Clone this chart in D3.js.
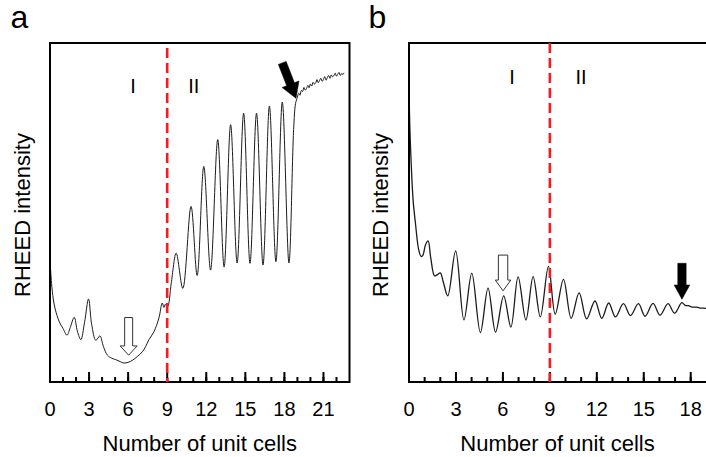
<!DOCTYPE html>
<html>
<head>
<meta charset="utf-8">
<script src="https://cdn.jsdelivr.net/npm/d3@7"></script>
<style>
  html, body { margin: 0; padding: 0; background: #fff; }
  svg { display: block; font-family: "Liberation Sans", Arial, Helvetica, sans-serif; }
</style>
</head>
<body>
<svg id="chart" width="706" height="457"></svg>
<script>
// ---- Data -------------------------------------------------------------
// Panel a: RHEED intensity (arb. units, 0-100) against deposited unit cells
const cellsA = [
  0.00, 0.12, 0.25, 0.40, 0.71, 1.00, 1.30, 1.55, 1.86, 2.10, 2.37, 2.65, 2.96, 3.20,
  3.52, 3.83, 4.10, 4.41, 4.75, 5.05, 5.40, 5.68, 6.00, 6.33, 6.70, 7.09, 7.35, 7.60,
  7.98, 8.36, 8.62, 8.75, 8.85, 9.03, 9.31, 9.69, 10.20, 10.83, 11.30, 11.81, 12.33,
  12.88, 13.37, 13.87, 14.37, 14.87, 15.36, 15.86, 16.36, 16.85, 17.35, 17.84, 18.35,
  18.71, 18.86, 19.00, 19.10, 19.20, 19.30, 19.40, 19.50, 19.60, 19.70, 19.80, 19.90,
  20.00, 20.10, 20.20, 20.30, 20.40, 20.50, 20.60, 20.70, 20.80, 20.90, 21.00, 21.10,
  21.20, 21.30, 21.40, 21.50, 21.60, 21.70, 21.80, 21.90, 22.00, 22.10, 22.20, 22.30,
  22.40, 22.50, 22.57
];
const intensityA = [
  36.0, 29.0, 24.5, 21.5, 17.8, 15.8, 13.8, 16.0, 19.1, 15.0, 12.5, 17.5, 24.5, 17.0,
  12.3, 13.6, 10.5, 7.9, 7.0, 6.6, 6.0, 5.6, 5.8, 6.4, 7.5, 8.9, 10.5, 12.5,
  14.8, 18.8, 23.3, 22.0, 22.9, 22.2, 29.1, 38.0, 27.6, 51.8, 31.4, 63.6, 33.0,
  71.5, 33.9, 75.9, 35.1, 79.3, 35.0, 79.3, 34.5, 81.4, 35.5, 82.6, 35.1,
  74.5, 82.2, 84.0, 85.2, 84.6, 86.0, 85.7, 86.9, 86.1, 86.6, 87.5, 86.8,
  87.9, 87.3, 88.4, 87.9, 88.2, 89.2, 88.3, 88.9, 89.6, 88.7, 89.3, 90.1,
  89.0, 89.8, 90.4, 89.6, 90.6, 90.0, 90.4, 91.1, 90.2, 90.8, 91.3, 90.4,
  91.0, 90.7, 91.2
];

// Panel b
const cellsB = [
  0.00, 0.04, 0.13, 0.26, 0.41, 0.62, 0.78, 0.90, 1.05, 1.22, 1.39, 1.63, 1.79, 2.00,
  2.19, 2.48, 2.98, 3.51, 4.01, 4.56, 5.05, 5.53, 6.05, 6.51, 6.97, 7.47, 7.93, 8.39,
  8.91, 9.34, 9.87, 10.36, 10.87, 11.35, 11.88, 12.32, 12.76, 13.19, 13.70, 14.15,
  14.66, 15.08, 15.59, 16.04, 16.55, 16.97, 17.43, 17.65, 17.85, 18.10, 18.39, 18.60,
  18.81, 19.10
];
const intensityB = [
  90.7, 77.5, 65.6, 53.8, 46.9, 39.0, 37.0, 37.5, 40.4, 41.6, 36.6, 31.3, 31.6, 32.2,
  29.5, 25.4, 38.7, 18.3, 32.1, 14.6, 27.7, 14.7, 25.4, 16.2, 31.0, 18.3, 31.1, 19.2,
  34.1, 20.0, 30.3, 18.8, 26.3, 18.6, 23.9, 18.8, 23.3, 19.2, 23.1, 19.6,
  23.1, 19.4, 23.2, 19.7, 23.1, 20.3, 23.4, 22.6, 22.5, 22.1, 22.1, 21.8,
  21.8, 21.6
];

// Axis ticks
const tickLabelsA = [0, 3, 6, 9, 12, 15, 18, 21];
const minorTicksA = d3.range(0, 23);
const tickLabelsB = [0, 3, 6, 9, 12, 15, 18];
const minorTicksB = d3.range(0, 19);

// Boundary between growth regimes and region names
const boundaryCell = 9;
const regionNames = ["I", "II"];
const regionCellsA = [6.37, 11.04];
const regionCellsB = [6.59, 10.99];

// Arrow tips (cells, intensity): [open arrow, solid arrow]
const arrowCellsA = [6.04, 18.89];
const arrowLevelsA = [7.9, 83.7];
const arrowCellsB = [6.01, 17.44];
const arrowLevelsB = [26.9, 24.4];

// ---- Layout -----------------------------------------------------------
const svg = d3.select("#chart");
const plotTop = 43, plotBottom = 382;
const font = '"Liberation Sans", Arial, Helvetica, sans-serif';

const panels = [
  {
    letter: "a", letterX: 10.5,
    cells: cellsA, intensity: intensityA,
    domain: [0, 23], range: [50, 349.5],
    majors: tickLabelsA, minors: minorTicksA,
    yLabelX: 30, lineWidth: 1.0,
    regions: regionCellsA, regionLevel: 85.3,
    dashOffset: 10,
    arrowCells: arrowCellsA, arrowLevels: arrowLevelsA,
    arrows: [
      { kind: "open", len: 37.7, shaftW: 8, headL: 9.3, headW: 17, angle: 0 },
      { kind: "solid", len: 37.9, shaftW: 8.3, headL: 15, headW: 18, angle: -21.2 }
    ]
  },
  {
    letter: "b", letterX: 368.5,
    cells: cellsB, intensity: intensityB,
    domain: [0, 19.2], range: [409, 709.5],
    majors: tickLabelsB, minors: minorTicksB,
    yLabelX: 388, lineWidth: 1.3,
    regions: regionCellsB, regionLevel: 87.9,
    dashOffset: 0,
    arrowCells: arrowCellsB, arrowLevels: arrowLevelsB,
    arrows: [
      { kind: "open", len: 35.7, shaftW: 9.4, headL: 10.7, headW: 15.5, angle: 0 },
      { kind: "solid", len: 36, shaftW: 8.4, headL: 14.3, headW: 15.7, angle: 0 }
    ]
  }
];

// Block arrow pointing along +y with its tip at the origin
function arrowPath(a) {
  const s = a.shaftW / 2, h = a.headW / 2;
  return `M${-s},${-a.len}L${s},${-a.len}L${s},${-a.headL}L${h},${-a.headL}` +
         `L0,0L${-h},${-a.headL}L${-s},${-a.headL}Z`;
}

panels.forEach(p => {
  const x = d3.scaleLinear().domain(p.domain).range(p.range);
  const y = d3.scaleLinear().domain([0, 100]).range([plotBottom, plotTop]);
  const g = svg.append("g");

  // Panel letter
  g.append("text")
    .attr("x", p.letterX).attr("y", 28.3)
    .attr("font-size", 32).attr("fill", "#000")
    .text(p.letter);

  // Intensity trace
  const pts = p.cells.map((c, i) => [c, p.intensity[i]]);
  g.append("path")
    .datum(pts)
    .attr("fill", "none")
    .attr("stroke", "#1c1c1c")
    .attr("stroke-width", p.lineWidth)
    .attr("stroke-linejoin", "round")
    .attr("d", d3.line().x(d => x(d[0])).y(d => y(d[1])).curve(d3.curveCatmullRom.alpha(0.5)));

  // Frame
  g.append("rect")
    .attr("x", x(p.domain[0])).attr("y", plotTop)
    .attr("width", x(p.domain[1]) - x(p.domain[0])).attr("height", plotBottom - plotTop)
    .attr("fill", "none").attr("stroke", "#000").attr("stroke-width", 2);

  // Inward ticks: minor every cell, major every three cells with labels
  const minorAxis = d3.axisBottom(x).tickValues(p.minors).tickSize(-5).tickSizeOuter(0)
    .tickFormat("").offset(0);
  const majorAxis = d3.axisBottom(x).tickValues(p.majors).tickSize(-10).tickSizeOuter(0)
    .tickPadding(20).tickFormat(d3.format("d")).offset(0);
  [minorAxis, majorAxis].forEach(ax => {
    const axG = g.append("g").attr("transform", `translate(0,${plotBottom})`).call(ax);
    axG.select(".domain").remove();
    axG.attr("font-size", null).attr("font-family", null);
    axG.selectAll(".tick line").attr("stroke", "#000").attr("stroke-width", 2);
    axG.selectAll(".tick text").attr("fill", "#000").attr("font-size", 20)
      .attr("font-family", font);
  });

  // Regime boundary
  g.append("line")
    .attr("x1", x(boundaryCell)).attr("x2", x(boundaryCell))
    .attr("y1", plotTop).attr("y2", plotBottom)
    .attr("stroke", "#f21c22").attr("stroke-width", 2.6)
    .attr("stroke-dasharray", "10,5").attr("stroke-dashoffset", p.dashOffset);

  // Region names
  g.selectAll("text.region")
    .data(regionNames)
    .join("text")
    .attr("class", "region")
    .attr("x", (d, i) => x(p.regions[i]))
    .attr("y", y(p.regionLevel))
    .attr("text-anchor", "middle")
    .attr("font-size", 20).attr("fill", "#000")
    .text(d => d);

  // Arrows
  p.arrows.forEach((a, i) => {
    g.append("path")
      .attr("d", arrowPath(a))
      .attr("transform", `translate(${x(p.arrowCells[i])},${y(p.arrowLevels[i])}) rotate(${a.angle})`)
      .attr("fill", a.kind === "solid" ? "#000" : "#fff")
      .attr("stroke", a.kind === "solid" ? "#000" : "#333")
      .attr("stroke-width", a.kind === "solid" ? 0.5 : 1)
      .attr("stroke-linejoin", "miter");
  });

  // Axis titles
  g.append("text")
    .attr("x", (p.range[0] + Math.min(p.range[1], 706)) / 2).attr("y", 450.7)
    .attr("text-anchor", "middle").attr("font-size", 22).attr("fill", "#000")
    .text("Number of unit cells");
  g.append("text")
    .attr("transform", `translate(${p.yLabelX},215) rotate(-90)`)
    .attr("text-anchor", "middle").attr("font-size", 22).attr("fill", "#000")
    .text("RHEED intensity");
});
</script>
</body>
</html>
